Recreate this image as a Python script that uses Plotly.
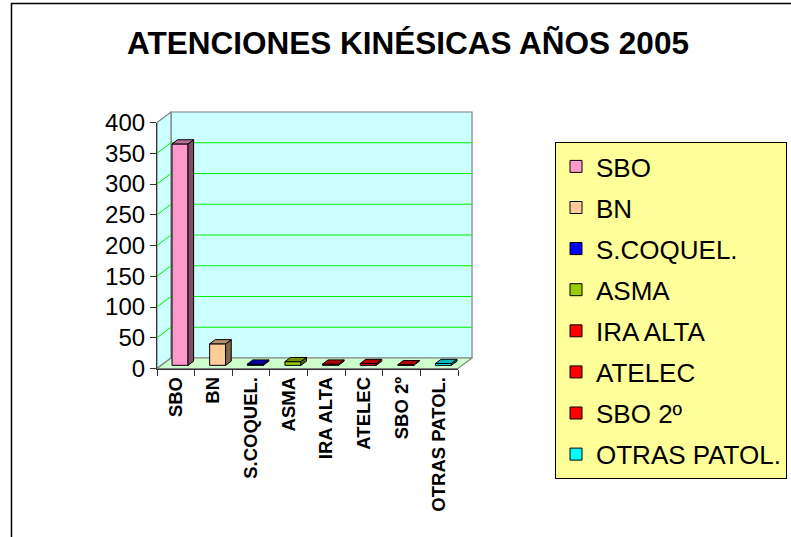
import plotly.graph_objects as go

# ---- data -------------------------------------------------------------
categories = ["SBO", "BN", "S.COQUEL.", "ASMA", "IRA ALTA", "ATELEC", "SBO 2º", "OTRAS PATOL."]
values = [360, 35, 2, 6, 2, 3, 1, 3]
colors = ["#FF99CC", "#FFCC99", "#0000FF", "#99CC00", "#FF0000", "#FF0000", "#FF0000", "#00FFFF"]
y_ticks = [0, 50, 100, 150, 200, 250, 300, 350, 400]
title_text = "ATENCIONES KINÉSICAS AÑOS 2005"

# ---- page / plot geometry (pixels) -------------------------------------
W, H = 791, 537
FRONT_LEFT = 157.0      # x pixel of the front vertical axis
CAT_PX = 37.63          # pixels per category slot
ZERO_PX = 368.5         # y pixel of value 0 on the front plane
VAL_PX = 0.615          # pixels per value unit
DEPTH_X_PX, DEPTH_Y_PX = 14.0, 10.5   # 3-D depth of the walls

n = len(categories)
y_max = y_ticks[-1]
DXc = DEPTH_X_PX / CAT_PX        # depth in category units
DYv = DEPTH_Y_PX / VAL_PX        # depth in value units
PADc, PADv = 0.1, 5.0

BAR_W = 0.425
D_FRONT, D_BACK = 0.3, 0.7       # bar placement inside the depth

FONT = "Liberation Sans, Arial, sans-serif"


def shade(hex_color, k):
    h = hex_color.lstrip("#")
    r, g, b = (int(h[i:i + 2], 16) for i in (0, 2, 4))
    return "rgb(%d,%d,%d)" % (r * k, g * k, b * k)


def px_x(c):
    return FRONT_LEFT + (c + 0.5) * CAT_PX


def px_y(v):
    return ZERO_PX - v * VAL_PX


fig = go.Figure()

# ---- walls and floor (back subplot x/y) --------------------------------
wall_line = dict(color="#808080", width=1.2)
x_l, x_r = -0.5, n - 0.5
fig.add_trace(go.Scatter(
    x=[x_l + DXc, x_r + DXc, x_r + DXc, x_l + DXc, x_l + DXc],
    y=[DYv, DYv, y_max + DYv, y_max + DYv, DYv],
    fill="toself", fillcolor="#CCFFFF", line=wall_line, mode="lines",
    showlegend=False, hoverinfo="skip"))
fig.add_trace(go.Scatter(
    x=[x_l, x_l, x_l + DXc, x_l + DXc, x_l],
    y=[0, y_max, y_max + DYv, DYv, 0],
    fill="toself", fillcolor="#CCFFFF", line=wall_line, mode="lines",
    showlegend=False, hoverinfo="skip"))
fig.add_trace(go.Scatter(
    x=[x_l, x_r, x_r + DXc, x_l + DXc, x_l],
    y=[0, 0, DYv, DYv, 0],
    fill="toself", fillcolor="#CCFFCC", line=wall_line, mode="lines",
    showlegend=False, hoverinfo="skip"))

# gridlines on the side wall and back wall
gx, gy = [], []
for t in y_ticks[1:-1]:
    gx += [x_l, x_l + DXc, x_r + DXc, None]
    gy += [t, t + DYv, t + DYv, None]
fig.add_trace(go.Scatter(x=gx, y=gy, mode="lines",
                         line=dict(color="#00F000", width=1),
                         showlegend=False, hoverinfo="skip"))

# ---- bars (front subplot x2/y2) -------------------------------------------
base = D_FRONT * DYv
ddx = (D_BACK - D_FRONT) * DXc
ddy = (D_BACK - D_FRONT) * DYv
for i, (cat, v, col) in enumerate(zip(categories, values, colors)):
    xc = i + D_FRONT * DXc
    fig.add_trace(go.Bar(
        x=[xc], y=[v], base=[base], width=BAR_W, name=cat,
        marker=dict(color=col, line=dict(color="black", width=1)),
        xaxis="x2", yaxis="y2", legendgroup=cat, hoverinfo="skip"))

for i, (v, col) in enumerate(zip(values, colors)):
    xc = i + D_FRONT * DXc
    a, b = xc - BAR_W / 2, xc + BAR_W / 2
    top = base + v
    # right side face
    fig.add_trace(go.Scatter(
        x=[b, b, b + ddx, b + ddx, b], y=[base, top, top + ddy, base + ddy, base],
        fill="toself", fillcolor=shade(col, 0.5), mode="lines",
        line=dict(color="black", width=1), xaxis="x2", yaxis="y2",
        showlegend=False, hoverinfo="skip"))
    # top face
    fig.add_trace(go.Scatter(
        x=[a, b, b + ddx, a + ddx, a], y=[top, top, top + ddy, top + ddy, top],
        fill="toself", fillcolor=shade(col, 0.72), mode="lines",
        line=dict(color="black", width=1), xaxis="x2", yaxis="y2",
        showlegend=False, hoverinfo="skip"))

# ---- axes ----------------------------------------------------------------
main_x0 = px_x(x_l - PADc)
main_x1 = px_x(x_r + DXc + PADc)
main_y0 = px_y(-PADv)
main_y1 = px_y(y_max + DYv + PADv)

front_x0, front_x1 = px_x(x_l), px_x(x_r)
front_y0, front_y1 = px_y(0), px_y(y_max)

fig.update_layout(
    template="none",
    width=W, height=H,
    margin=dict(l=0, r=0, t=0, b=0),
    paper_bgcolor="white",
    plot_bgcolor="rgba(0,0,0,0)",
    hovermode=False,
    barmode="overlay",
    xaxis=dict(range=[x_l - PADc, x_r + DXc + PADc], domain=[main_x0 / W, main_x1 / W],
               visible=False, fixedrange=True),
    yaxis=dict(range=[-PADv, y_max + DYv + PADv],
               domain=[(H - main_y0) / H, (H - main_y1) / H],
               visible=False, fixedrange=True),
    xaxis2=dict(range=[x_l, x_r], domain=[front_x0 / W, front_x1 / W], anchor="y2",
                tickmode="array", tickvals=list(range(n)), ticktext=categories,
                ticks="", tickangle=-90, showgrid=False, zeroline=False,
                showline=True, linecolor="#333333", linewidth=1.2,
                tickfont=dict(family=FONT, size=18.5, color="black", weight="bold"),
                minor=dict(tickmode="array", tickvals=[k - 0.5 for k in range(n + 1)],
                           ticks="outside", ticklen=6, tickcolor="#333333", showgrid=False),
                automargin=False, fixedrange=True),
    yaxis2=dict(range=[0, y_max], domain=[(H - front_y0) / H, (H - front_y1) / H],
                anchor="x2", tickmode="array", tickvals=y_ticks,
                ticks="outside", ticklen=6, tickcolor="#333333",
                showgrid=False, zeroline=False,
                showline=True, linecolor="#333333", linewidth=1.2,
                tickfont=dict(family=FONT, size=24, color="black"),
                automargin=False, fixedrange=True),
    title=dict(text="<b>" + title_text + "</b>", x=408 / W, xanchor="center",
               y=1 - 43 / H, yanchor="middle",
               font=dict(family=FONT, size=31.5, color="black")),
    legend=dict(x=555 / W, y=1 - 142 / H, xanchor="left", yanchor="top",
                bgcolor="#FFFF99", bordercolor="black", borderwidth=1,
                font=dict(family=FONT, size=26, color="black"),
                tracegroupgap=4.3, traceorder="grouped"),
    shapes=[dict(type="rect", xref="paper", yref="paper",
                 x0=11.5 / W, x1=1.05, y0=-0.05, y1=1 - 3.5 / H,
                 line=dict(color="black", width=1.5), fillcolor="rgba(0,0,0,0)")],
)

fig.write_html("out.html")
